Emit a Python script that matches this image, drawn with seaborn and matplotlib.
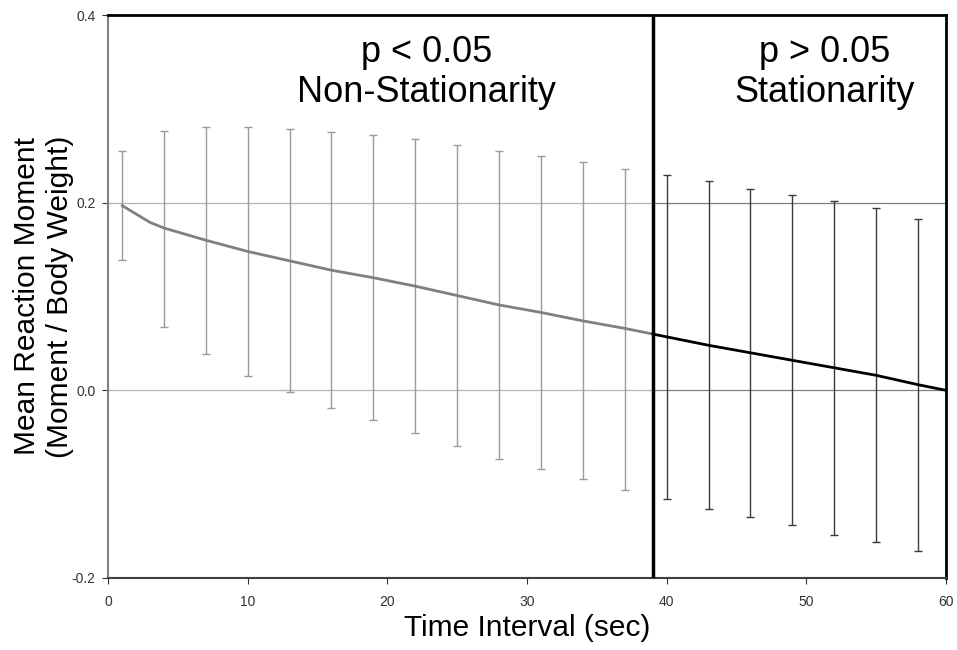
import matplotlib
matplotlib.use('Agg')
import numpy as np
import pandas as pd
import matplotlib.pyplot as plt
import seaborn as sns

# --- data ---
bar_time = [1, 4, 7, 10, 13, 16, 19, 22, 25, 28, 31, 34, 37, 40, 43, 46, 49, 52, 55, 58]
bar_mean = [0.197, 0.172, 0.160, 0.148, 0.138, 0.128, 0.120, 0.111, 0.101, 0.091,
            0.083, 0.074, 0.065, 0.057, 0.048, 0.040, 0.032, 0.024, 0.016, 0.006]
bar_err = [0.058, 0.104, 0.121, 0.133, 0.140, 0.147, 0.152, 0.157, 0.160, 0.164,
           0.167, 0.169, 0.171, 0.173, 0.175, 0.175, 0.176, 0.178, 0.178, 0.177]

# mean curve, split at the stationarity boundary
curve_time = [1, 2, 3, 4, 7, 10, 13, 16, 19, 22, 25, 28, 31, 34, 37, 39,
              40, 43, 46, 49, 52, 55, 58, 60]
curve_mean = [0.197, 0.188, 0.179, 0.173, 0.160, 0.148, 0.138, 0.128, 0.120, 0.111, 0.101,
              0.091, 0.083, 0.074, 0.066, 0.060,
              0.057, 0.048, 0.040, 0.032, 0.024, 0.016, 0.006, 0.000]
split_time = 39

sns.set_theme(style='white')
plt.rcParams['font.family'] = ['Liberation Sans', 'DejaVu Sans']
plt.rcParams['text.color'] = 'black'
plt.rcParams['axes.labelcolor'] = 'black'

df_curve = pd.DataFrame({'t': curve_time, 'm': curve_mean})
df_bar = pd.DataFrame({'t': bar_time, 'm': bar_mean, 'e': bar_err})

fig = plt.figure(figsize=(9.57, 6.5), dpi=100)
ax = fig.add_axes([0.1129, 0.1108, 0.8756, 0.8661])

# grid lines at 0.0 and 0.2
for yv in [0.0, 0.2]:
    ax.plot([0, split_time], [yv, yv], color='#b4b4b4', lw=0.9, zorder=1)
    ax.plot([split_time, 60], [yv, yv], color='#808080', lw=0.9, zorder=1)

left = df_bar[df_bar['t'] < split_time]
right = df_bar[df_bar['t'] > split_time]
ax.errorbar(left['t'], left['m'], yerr=left['e'], fmt='none', ecolor='#9a9a9a',
            elinewidth=1.0, capsize=3, capthick=1.0, zorder=2)
ax.errorbar(right['t'], right['m'], yerr=right['e'], fmt='none', ecolor='#3a3a3a',
            elinewidth=1.0, capsize=3, capthick=1.0, zorder=2)

sns.lineplot(data=df_curve[df_curve['t'] <= split_time], x='t', y='m', ax=ax,
             color='#808080', lw=2, zorder=3)
sns.lineplot(data=df_curve[df_curve['t'] >= split_time], x='t', y='m', ax=ax,
             color='#000000', lw=2, zorder=3)

ax.axvline(split_time, color='black', lw=2.5, zorder=4)

ax.set_xlim(0, 60)
ax.set_ylim(-0.2, 0.4)
ax.set_xticks(range(0, 61, 10))
ax.set_yticks([-0.2, 0.0, 0.2, 0.4])
ax.set_yticklabels(['-0.2', '0.0', '0.2', '0.4'])
ax.tick_params(axis='both', labelsize=10, colors='#333333', length=4, width=0.8,
               direction='out', bottom=True, left=True)
ax.tick_params(axis='x', pad=8)
ax.tick_params(axis='y', pad=5)

ax.spines['left'].set_color('#808080')
ax.spines['left'].set_linewidth(1.5)
ax.spines['bottom'].set_color('#404040')
ax.spines['bottom'].set_linewidth(1.5)
ax.spines['top'].set_color('black')
ax.spines['top'].set_linewidth(2)
ax.spines['right'].set_color('black')
ax.spines['right'].set_linewidth(2)

ax.set_xlabel('Time Interval (sec)', fontsize=21.5, labelpad=4)
ax.set_ylabel('Mean Reaction Moment\n(Moment / Body Weight)', fontsize=21.5, labelpad=-2,
              linespacing=1.25)

ax.text(22.8, 0.339, 'p < 0.05\nNon-Stationarity', ha='center', va='center',
        fontsize=26, linespacing=1.2)
ax.text(51.3, 0.339, 'p > 0.05\nStationarity', ha='center', va='center',
        fontsize=26, linespacing=1.2)

fig.savefig('out.png', dpi=100)
